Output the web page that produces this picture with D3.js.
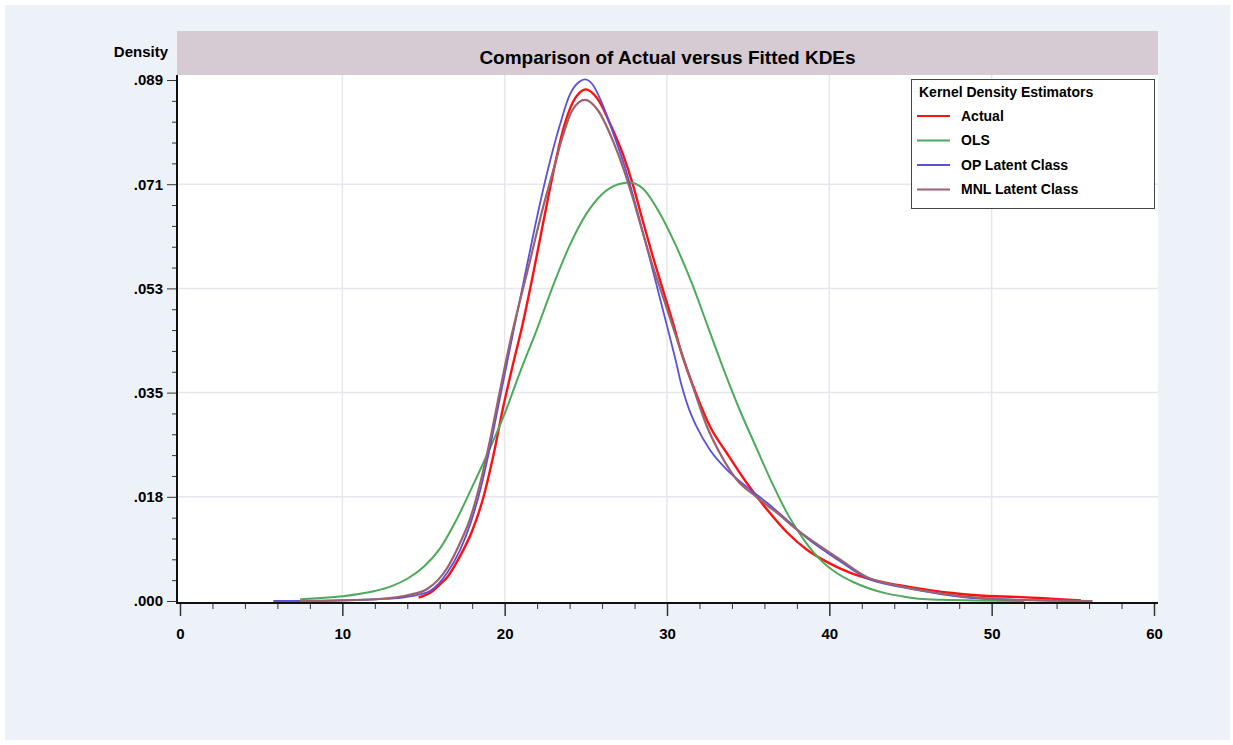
<!DOCTYPE html>
<html>
<head>
<meta charset="utf-8">
<script src="https://cdn.jsdelivr.net/npm/d3@7"></script>
<style>
  body { margin: 0; background: #fff; }
  svg { display: block; font-family: "Liberation Sans", Arial, sans-serif; }
  .tick text { font-weight: bold; font-size: 15px; fill: #000; }
  .tick line { stroke: #333; }
</style>
</head>
<body>
<div id="chart"></div>
<script>
// KDE curves, [x, density]
const actual = [
  [14.7, 0.0006], [15.4, 0.0014], [16.0, 0.0028], [16.5, 0.0042], [17.2, 0.0074],
  [18.0, 0.0120], [18.7, 0.0178], [19.3, 0.0248], [19.9, 0.0330], [20.5, 0.0403],
  [21.1, 0.0472], [21.75, 0.0558], [22.4, 0.0650], [23.0, 0.0733], [23.6, 0.0805],
  [24.2, 0.0852], [24.6, 0.0868], [25.0, 0.0874], [25.4, 0.0868], [25.9, 0.0850],
  [26.5, 0.0815], [27.3, 0.0762], [27.9, 0.0711], [28.5, 0.0650], [29.1, 0.0591],
  [29.8, 0.0527], [30.4, 0.0472], [30.8, 0.0432], [31.85, 0.0350], [32.65, 0.0298],
  [33.7, 0.0252], [34.9, 0.0202], [36.2, 0.0155], [37.4, 0.0117], [38.6, 0.0088],
  [39.9, 0.0066], [41.3, 0.0048], [43.3, 0.0032], [45.4, 0.0022], [47.4, 0.0014],
  [49.5, 0.0009], [51.5, 0.0007], [53.6, 0.0004], [55.5, 0.0001]
];
const ols = [
  [7.4, 0.0003], [10.0, 0.0008], [12.0, 0.0017], [13.0, 0.0025], [14.0, 0.0038],
  [15.0, 0.0058], [16.0, 0.0089], [17.0, 0.0137], [18.0, 0.0195], [19.0, 0.0255],
  [20.0, 0.0320], [21.0, 0.0395], [22.0, 0.0465], [23.0, 0.0540], [24.0, 0.0607],
  [25.0, 0.0660], [26.0, 0.0695], [27.0, 0.0712], [27.7, 0.0715], [28.5, 0.0705],
  [29.5, 0.0665], [30.5, 0.0610], [31.5, 0.0545], [32.5, 0.0470], [33.5, 0.0395],
  [34.5, 0.0325], [35.5, 0.0262], [36.5, 0.0200], [37.5, 0.0145], [38.5, 0.0102],
  [39.5, 0.0069], [40.5, 0.0047], [41.5, 0.0032], [42.5, 0.0021], [43.5, 0.0013],
  [44.5, 0.0008], [45.5, 0.0004], [47.0, 0.0002], [49.0, 0.0001], [52.0, 0.0000]
];
const opLatent = [
  [5.75, 0.0000], [8.0, 0.0000], [10.0, 0.0001], [12.1, 0.0003], [13.7, 0.0006],
  [14.6, 0.0010], [15.4, 0.0017], [16.45, 0.0048], [17.25, 0.0087], [17.9, 0.0133],
  [18.5, 0.0190], [19.1, 0.0263], [19.7, 0.0346], [20.3, 0.0428], [21.4, 0.0577],
  [22.2, 0.0682], [22.8, 0.0752], [23.4, 0.0813], [24.0, 0.0864], [24.6, 0.0887],
  [24.95, 0.0891], [25.45, 0.0881], [26.0, 0.0850], [26.7, 0.0798], [27.5, 0.0733],
  [28.15, 0.0668], [28.8, 0.0600], [29.4, 0.0535], [30.0, 0.0470], [30.5, 0.0415],
  [30.9, 0.0368], [31.3, 0.0332], [31.8, 0.0299], [32.65, 0.0258], [33.7, 0.0224],
  [34.9, 0.0195], [36.2, 0.0167], [37.4, 0.0138], [38.6, 0.0108], [39.9, 0.0082],
  [40.7, 0.0067], [42.3, 0.0039], [44.4, 0.0024], [46.4, 0.0014], [48.5, 0.0006],
  [50.5, 0.0003], [53.0, 0.0001], [56.2, 0.0000]
];
const mnlLatent = [
  [7.4, 0.0000], [10.0, 0.0001], [12.1, 0.0003], [14.2, 0.0011], [15.2, 0.0020],
  [16.45, 0.0056], [17.25, 0.0099], [17.9, 0.0143], [18.5, 0.0202], [19.1, 0.0275],
  [19.7, 0.0358], [20.3, 0.0438], [21.55, 0.0580], [22.35, 0.0671], [23.0, 0.0736],
  [23.6, 0.0796], [24.2, 0.0840], [24.95, 0.0856], [25.7, 0.0840], [26.7, 0.0784],
  [27.3, 0.0740], [27.9, 0.0688], [28.5, 0.0630], [29.1, 0.0574], [29.75, 0.0520],
  [30.8, 0.0432], [31.6, 0.0366], [32.45, 0.0299], [33.45, 0.0243], [34.3, 0.0207],
  [35.5, 0.0178], [36.8, 0.0150], [38.0, 0.0122], [39.25, 0.0097], [40.7, 0.0070],
  [42.3, 0.0041], [44.4, 0.0025], [46.4, 0.0015], [48.5, 0.0007], [50.5, 0.0003],
  [53.0, 0.0001], [56.2, 0.0000]
];

const seriesNames = ['Actual', 'OLS', 'OP Latent Class', 'MNL Latent Class'];
const seriesColors = ['#ff1010', '#4caa5a', '#5a50dc', '#9a636d'];
const seriesWidths = [2.4, 2, 1.8, 2.2];

const xTicks = [0, 10, 20, 30, 40, 50, 60];
const yTicks = [0, 0.0178, 0.0356, 0.0534, 0.0712, 0.089];
const yTickLabels = ['.000', '.018', '.035', '.053', '.071', '.089'];

const W = 1233, H = 745;
const plot = { left: 177, right: 1158, top: 75, bottom: 603 };

const svg = d3.select('#chart').append('svg')
  .attr('width', W)
  .attr('height', H);

// backgrounds
svg.append('rect')
  .attr('x', 5).attr('y', 5)
  .attr('width', 1225).attr('height', 735)
  .attr('fill', '#edf1f8');
svg.append('rect')
  .attr('x', plot.left).attr('y', 31)
  .attr('width', plot.right - plot.left).attr('height', plot.top - 31)
  .attr('fill', '#d6cbd3');
svg.append('rect')
  .attr('x', plot.left).attr('y', plot.top)
  .attr('width', plot.right - plot.left).attr('height', plot.bottom - plot.top)
  .attr('fill', '#fff');

const x = d3.scaleLinear().domain([0, 60]).range([180, 1154]);
const y = d3.scaleLinear().domain([0, 0.089]).range([601, 80]);

// grid
const grid = svg.append('g').attr('stroke', '#e6e6ee').attr('stroke-width', 1.5);
grid.selectAll('line.vx')
  .data(xTicks.slice(1, -1))
  .enter().append('line')
  .attr('x1', d => x(d)).attr('x2', d => x(d))
  .attr('y1', plot.top).attr('y2', plot.bottom);
grid.selectAll('line.hy')
  .data(yTicks.slice(1, -1))
  .enter().append('line')
  .attr('x1', plot.left).attr('x2', plot.right)
  .attr('y1', d => y(d)).attr('y2', d => y(d));

svg.append('text')
  .attr('x', (plot.left + plot.right) / 2)
  .attr('y', 64)
  .attr('text-anchor', 'middle')
  .style('font-weight', 'bold')
  .style('font-size', '19px')
  .text('Comparison of Actual versus Fitted KDEs');

// curves
const line = d3.line()
  .x(d => x(d[0]))
  .y(d => y(d[1]))
  .curve(d3.curveMonotoneX);

[actual, ols, opLatent, mnlLatent].forEach((s, i) => {
  svg.append('path')
    .datum(s)
    .attr('fill', 'none')
    .attr('stroke', seriesColors[i])
    .attr('stroke-width', seriesWidths[i])
    .attr('stroke-linejoin', 'round')
    .attr('d', line);
});

// x axis
const minorX = d3.range(0, 61, 2).filter(v => v % 10 !== 0);
svg.append('g')
  .attr('transform', `translate(0,${plot.bottom})`)
  .call(d3.axisBottom(x).tickValues(minorX).tickSize(6).tickFormat(''))
  .call(g => g.select('.domain').remove());
svg.append('g')
  .attr('transform', `translate(0,${plot.bottom})`)
  .call(d3.axisBottom(x).tickValues(xTicks).tickSize(13).tickPadding(12).tickFormat(d3.format('d')))
  .call(g => g.select('.domain').remove())
  .call(g => g.selectAll('.tick line').attr('stroke-width', 1.5));

// y axis
const minorY = [];
for (let i = 0; i < yTicks.length - 1; i++) {
  for (let k = 1; k < 5; k++) minorY.push(yTicks[i] + (yTicks[i + 1] - yTicks[i]) * k / 5);
}
svg.append('g')
  .attr('transform', `translate(${plot.left},0)`)
  .call(d3.axisLeft(y).tickValues(minorY).tickSize(5).tickFormat(''))
  .call(g => g.select('.domain').remove());
svg.append('g')
  .attr('transform', `translate(${plot.left},0)`)
  .call(d3.axisLeft(y).tickValues(yTicks).tickSize(10).tickPadding(4)
    .tickFormat((d, i) => yTickLabels[i]))
  .call(g => g.select('.domain').remove());

svg.append('line')
  .attr('x1', plot.left).attr('x2', plot.right)
  .attr('y1', plot.bottom).attr('y2', plot.bottom)
  .attr('stroke', '#111').attr('stroke-width', 2);
svg.append('line')
  .attr('x1', plot.left).attr('x2', plot.left)
  .attr('y1', plot.top).attr('y2', plot.bottom + 1)
  .attr('stroke', '#111').attr('stroke-width', 2);

svg.append('text')
  .attr('x', 168).attr('y', 57)
  .attr('text-anchor', 'end')
  .style('font-weight', 'bold')
  .style('font-size', '15px')
  .text('Density');

// legend
const legend = svg.append('g').attr('transform', 'translate(911,79)');
legend.append('rect')
  .attr('x', 0.5).attr('y', 0.5)
  .attr('width', 243).attr('height', 129)
  .attr('fill', '#fff')
  .attr('stroke', '#444');
legend.append('text')
  .attr('x', 8).attr('y', 18)
  .style('font-weight', 'bold')
  .style('font-size', '14px')
  .text('Kernel Density Estimators');
const items = legend.selectAll('g.item')
  .data(seriesNames)
  .enter().append('g')
  .attr('transform', (d, i) => `translate(0,${37 + i * 24.5})`);
items.append('line')
  .attr('x1', 6).attr('x2', 39)
  .attr('stroke', (d, i) => seriesColors[i])
  .attr('stroke-width', 2);
items.append('text')
  .attr('x', 50).attr('dy', '0.35em')
  .style('font-weight', 'bold')
  .style('font-size', '14px')
  .text(d => d);
</script>
</body>
</html>
